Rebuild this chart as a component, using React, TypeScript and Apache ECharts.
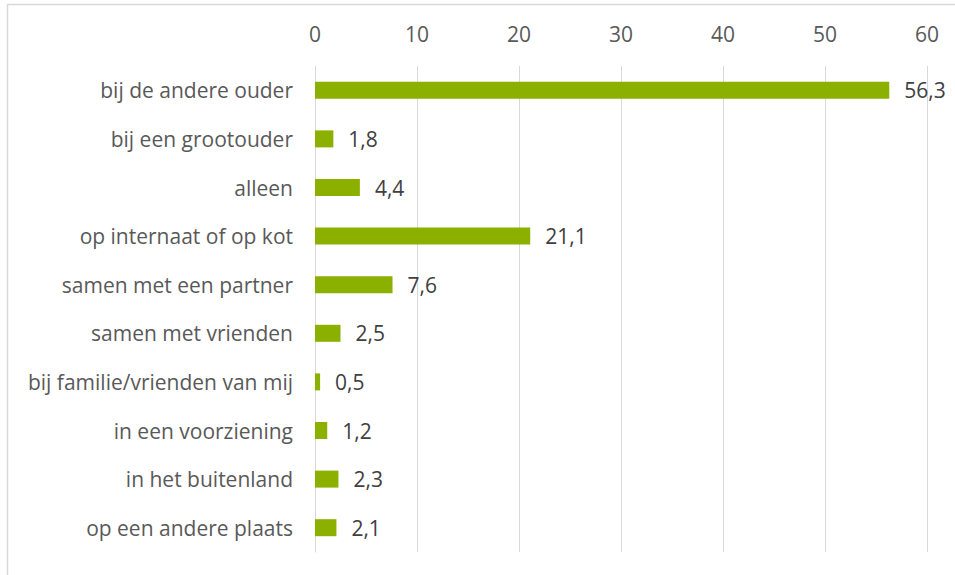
import React, { useEffect, useRef } from "react";
import * as echarts from "echarts";

const categories = [
  "bij de andere ouder",
  "bij een grootouder",
  "alleen",
  "op internaat of op kot",
  "samen met een partner",
  "samen met vrienden",
  "bij familie/vrienden van mij",
  "in een voorziening",
  "in het buitenland",
  "op een andere plaats",
];
const values = [56.3, 1.8, 4.4, 21.1, 7.6, 2.5, 0.5, 1.2, 2.3, 2.1];
const tickMin = 0;
const tickMax = 60;
const tickInterval = 10;

export default function App() {
  const ref = useRef<HTMLDivElement>(null);
  useEffect(() => {
    document.body.style.margin = "0";
    const chart = echarts.init(ref.current!, null, { renderer: "svg" });
    const font = "'Open Sans', sans-serif";
    chart.setOption({
      animation: false,
      backgroundColor: "#ffffff",
      graphic: [
        {
          type: "rect",
          shape: { x: 7.5, y: 4.5, width: 960, height: 600 },
          style: { fill: "none", stroke: "#d9d9d9", lineWidth: 1.5 },
          silent: true,
        },
      ],
      grid: { left: 315, right: 28, top: 66, bottom: 23, containLabel: false },
      xAxis: {
        type: "value",
        position: "top",
        min: tickMin,
        max: tickMax,
        interval: tickInterval,
        axisLine: { show: false },
        axisTick: { show: false },
        splitLine: { show: true, lineStyle: { color: "#d9d9d9", width: 1 } },
        axisLabel: { color: "#595959", fontSize: 21, fontFamily: font, margin: 22 },
      },
      yAxis: {
        type: "category",
        data: categories,
        inverse: true,
        axisLine: { show: true, lineStyle: { color: "#d9d9d9", width: 1 } },
        axisTick: { show: false },
        axisLabel: { color: "#595959", fontSize: 21, fontFamily: font, margin: 22 },
      },
      series: [
        {
          type: "bar",
          data: values,
          barWidth: 17,
          itemStyle: { color: "#8cb000" },
          label: {
            show: true,
            position: "right",
            distance: 15,
            color: "#404040",
            fontSize: 21,
            fontFamily: font,
            formatter: (p: any) => String(p.value).replace(".", ","),
          },
        },
      ],
    });
    return () => chart.dispose();
  }, []);
  return <div ref={ref} style={{ width: 955, height: 575 }} />;
}
